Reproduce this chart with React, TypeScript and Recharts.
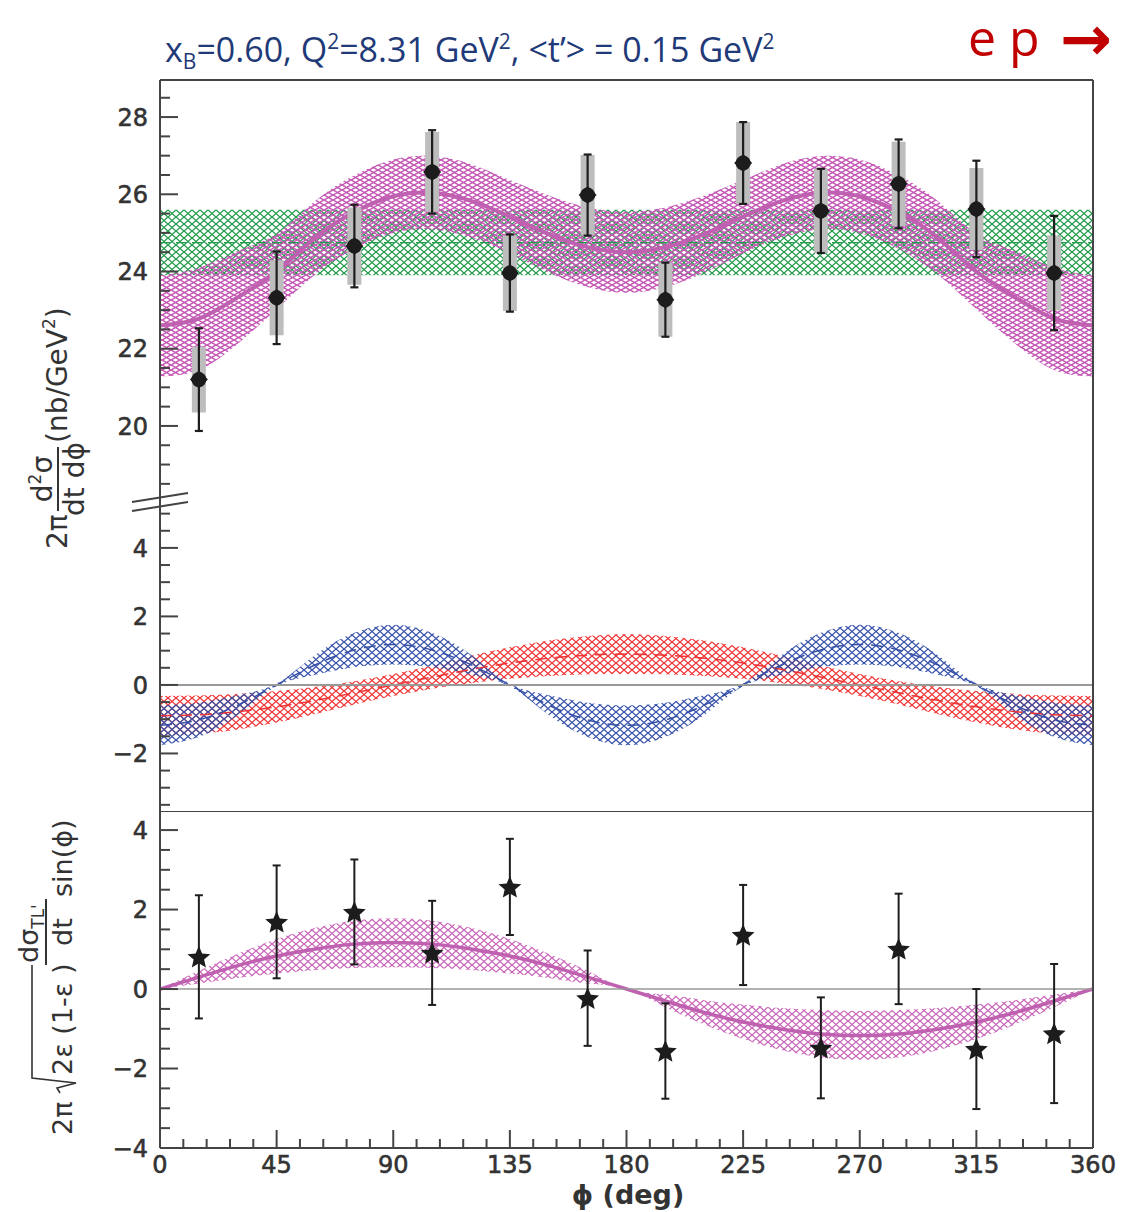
import React from 'react'
import { Area, ComposedChart, ErrorBar, Line, ReferenceLine, Scatter, XAxis, YAxis } from 'recharts'

// model curves are read every 15 deg
const phiGrid = [0, 15, 30, 45, 60, 75, 90, 105, 120, 135, 150, 165, 180, 195, 210, 225, 240, 255, 270, 285, 300, 315, 330, 345, 360]

// top panel: full cross section (magenta) and constant fit (green)
const magMid = [22.6, 22.78, 23.33, 24.0, 24.88, 25.54, 25.95, 26.04, 25.83, 25.42, 24.97, 24.63, 24.5, 24.63, 24.97, 25.42, 25.83, 26.04, 25.95, 25.54, 24.88, 24.0, 23.33, 22.78, 22.6]
const magLo = [21.28, 21.45, 22.13, 23.02, 23.93, 24.59, 25.0, 25.09, 24.88, 24.47, 23.97, 23.6, 23.45, 23.6, 23.97, 24.47, 24.88, 25.09, 25.0, 24.59, 23.93, 23.02, 22.13, 21.45, 21.28]
const magHi = [23.9, 24.1, 24.53, 24.98, 25.83, 26.49, 26.9, 26.99, 26.78, 26.37, 25.97, 25.66, 25.55, 25.66, 25.97, 26.37, 26.78, 26.99, 26.9, 26.49, 25.83, 24.98, 24.53, 24.1, 23.9]
const greenBand = [23.9, 25.6]
const greenMid = 24.75

// middle panel: cos(phi) term (red) and cos(2phi) term (blue)
const redMid = [-0.9, -0.87, -0.78, -0.64, -0.45, -0.23, 0, 0.23, 0.45, 0.64, 0.78, 0.87, 0.9, 0.87, 0.78, 0.64, 0.45, 0.23, 0, -0.23, -0.45, -0.64, -0.78, -0.87, -0.9]
const redLo = [-1.48, -1.43, -1.3, -1.1, -0.85, -0.57, -0.32, -0.11, 0.05, 0.18, 0.26, 0.31, 0.32, 0.31, 0.26, 0.18, 0.05, -0.11, -0.32, -0.57, -0.85, -1.1, -1.3, -1.43, -1.48]
const redHi = [-0.32, -0.31, -0.26, -0.18, -0.05, 0.11, 0.32, 0.57, 0.85, 1.1, 1.3, 1.43, 1.48, 1.43, 1.3, 1.1, 0.85, 0.57, 0.32, 0.11, -0.05, -0.18, -0.26, -0.31, -0.32]
const blueMid = [-1.18, -1.02, -0.59, 0, 0.59, 1.02, 1.18, 1.02, 0.59, 0, -0.59, -1.02, -1.18, -1.02, -0.59, 0, 0.59, 1.02, 1.18, 1.02, 0.59, 0, -0.59, -1.02, -1.18]
const blueLo = [-1.76, -1.52, -0.88, -0.04, 0.3, 0.52, 0.6, 0.52, 0.3, -0.04, -0.88, -1.52, -1.76, -1.52, -0.88, -0.04, 0.3, 0.52, 0.6, 0.52, 0.3, -0.04, -0.88, -1.52, -1.76]
const blueHi = [-0.6, -0.52, -0.3, 0.04, 0.88, 1.52, 1.76, 1.52, 0.88, 0.04, -0.3, -0.52, -0.6, -0.52, -0.3, 0.04, 0.88, 1.52, 1.76, 1.52, 0.88, 0.04, -0.3, -0.52, -0.6]

// bottom panel: sigma_TL' sin(phi) model
const tlMid = [0, 0.3, 0.59, 0.83, 1.01, 1.13, 1.17, 1.13, 1.01, 0.83, 0.59, 0.3, 0, -0.3, -0.59, -0.83, -1.01, -1.13, -1.17, -1.13, -1.01, -0.83, -0.59, -0.3, 0]
const tlLo = [0, 0.14, 0.28, 0.39, 0.48, 0.53, 0.55, 0.53, 0.48, 0.39, 0.28, 0.14, 0, -0.46, -0.89, -1.26, -1.54, -1.72, -1.78, -1.72, -1.54, -1.26, -0.89, -0.46, 0]
const tlHi = [0, 0.46, 0.89, 1.26, 1.54, 1.72, 1.78, 1.72, 1.54, 1.26, 0.89, 0.46, 0, -0.14, -0.28, -0.39, -0.48, -0.53, -0.55, -0.53, -0.48, -0.39, -0.28, -0.14, 0]

// measured points
const phiPts = [15, 45, 75, 105, 135, 165, 195, 225, 255, 285, 315, 345]
const xsecVal = [21.2, 23.32, 24.66, 26.58, 23.96, 25.98, 23.27, 26.81, 25.57, 26.27, 25.62, 23.96]
const xsecStat = [1.33, 1.2, 1.07, 1.08, 1.0, 1.05, 0.96, 1.06, 1.09, 1.15, 1.25, 1.48]
const xsecSyst = [0.85, 0.97, 1.0, 1.03, 0.98, 1.04, 0.96, 1.06, 1.09, 1.09, 1.06, 0.97]
const tlVal = [0.81, 1.69, 1.94, 0.91, 2.57, -0.23, -1.56, 1.36, -1.48, 1.01, -1.51, -1.12]
const tlErr = [1.55, 1.42, 1.32, 1.31, 1.21, 1.2, 1.2, 1.26, 1.27, 1.39, 1.51, 1.75]

// axes
const topDomain = [18.03, 28.96]
const midDomain = [-3.68, 5.34]
const botDomain = [-4, 4.48]
const topTicks = [18.5, 19, 19.5, 20, 20.5, 21, 21.5, 22, 22.5, 23, 23.5, 24, 24.5, 25, 25.5, 26, 26.5, 27, 27.5, 28, 28.5]
const topLabels = [20, 22, 24, 26, 28]
const midTicks = [-3.5, -3, -2.5, -2, -1.5, -1, -0.5, 0, 0.5, 1, 1.5, 2, 2.5, 3, 3.5, 4, 4.5, 5]
const midLabels = [-2, 0, 2, 4]
const botTicks = [-4, -3.5, -3, -2.5, -2, -1.5, -1, -0.5, 0, 0.5, 1, 1.5, 2, 2.5, 3, 3.5, 4]
const botLabels = [-4, -2, 0, 2, 4]
const xTicks = [0, 9, 18, 27, 36, 45, 54, 63, 72, 81, 90, 99, 108, 117, 126, 135, 144, 153, 162, 171, 180, 189, 198, 207, 216, 225, 234, 243, 252, 261, 270, 279, 288, 297, 306, 315, 324, 333, 342, 351, 360]
const xLabels = [0, 45, 90, 135, 180, 225, 270, 315, 360]

const topRows = phiGrid.map((phi, i) => ({ phi, mag: [magLo[i], magHi[i]], magMid: magMid[i], green: greenBand, greenMid }))
const midRows = phiGrid.map((phi, i) => ({ phi, red: [redLo[i], redHi[i]], redMid: redMid[i], blue: [blueLo[i], blueHi[i]], blueMid: blueMid[i] }))
const botRows = phiGrid.map((phi, i) => ({ phi, tl: [tlLo[i], tlHi[i]], tlMid: tlMid[i] }))
const xsecPts = phiPts.map((phi, i) => ({ phi, val: xsecVal[i], stat: xsecStat[i], syst: xsecSyst[i] }))
const tlPts = phiPts.map((phi, i) => ({ phi, val: tlVal[i], err: tlErr[i] }))

const FONT = '"DejaVu Sans", sans-serif'
const AXIS = '#444'
const TXT = '#333'
const MAG = '#c060b0'

const fmt = (v: number) => (v < 0 ? '\u2212' + Math.abs(v) : String(v))

const YTick = (props: any) => {
    const { x, y, payload, labels } = props
    const major = labels.includes(payload.value)
    return (
        <g>
            <line x1={x} x2={x + (major ? 18 : 10)} y1={y} y2={y} stroke={AXIS} strokeWidth={2} />
            {major && (
                <text x={x - 12} y={y} dy="0.36em" textAnchor="end" fontFamily={FONT} fontSize={24} fill={TXT} stroke={TXT} strokeWidth={0.6}>
                    {fmt(payload.value)}
                </text>
            )}
        </g>
    )
}

const XTick = (props: any) => {
    const { x, y, payload } = props
    const major = xLabels.includes(payload.value)
    return (
        <g>
            <line x1={x} x2={x} y1={y} y2={y - (major ? 18 : 9)} stroke={AXIS} strokeWidth={2} />
            {major && (
                <text x={x} y={y + 25} textAnchor="middle" fontFamily={FONT} fontSize={24} fill={TXT} stroke={TXT} strokeWidth={0.6}>
                    {payload.value}
                </text>
            )}
        </g>
    )
}

const Dot = (props: any) => {
    const { cx, cy } = props
    return (
        <g>
            <circle cx={cx} cy={cy} r={7.5} fill="#1c1c1c" />
            <path d={`M${cx},${cy - 9} L${cx + 9},${cy} L${cx},${cy + 9} L${cx - 9},${cy} Z`} fill="#1c1c1c" />
        </g>
    )
}

const Star = (props: any) => {
    const { cx, cy } = props
    const pts = []
    for (let k = 0; k < 10; k++) {
        const r = k % 2 === 0 ? 12 : 5.5
        const a = -Math.PI / 2 + (k * Math.PI) / 5
        pts.push(`${cx + r * Math.cos(a)},${cy + 1 + r * Math.sin(a)}`)
    }
    return <polygon points={pts.join(' ')} fill="#1c1c1c" />
}

const Hatch = ({ id, color, w, h, sw }: { id: string; color: string; w: number; h: number; sw: number }) => (
    <pattern id={id} patternUnits="userSpaceOnUse" width={w} height={h}>
        <path d={`M0,0 L${w},${h} M0,${h} L${w},0`} stroke={color} strokeWidth={sw} fill="none" />
    </pattern>
)

const yAxisProps = (domain: number[], ticks: number[], labels: number[]) => ({
    type: 'number' as const,
    domain,
    allowDataOverflow: true,
    width: 1,
    ticks,
    interval: 0,
    tickLine: false,
    tickSize: 0,
    tickMargin: 0,
    axisLine: { stroke: AXIS, strokeWidth: 2 },
    tick: (p: any) => <YTick {...p} labels={labels} />,
})

export default function App() {
    return (
        <div style={{ position: 'absolute', left: 0, top: 0, width: 1122, height: 1212, background: '#fff' }}>
            <svg width={0} height={0} style={{ position: 'absolute' }}>
                <defs>
                    <Hatch id="hMag" color="#c455b4" w={9} h={5} sw={1.5} />
                    <Hatch id="hGreen" color="#1f9a48" w={8} h={7} sw={1.3} />
                    <Hatch id="hRed" color="#ee3333" w={8} h={7} sw={1.3} />
                    <Hatch id="hBlue" color="#3550a8" w={8} h={7} sw={1.3} />
                    <Hatch id="hMag2" color="#c864b8" w={8} h={7} sw={1.3} />
                </defs>
            </svg>

            <div style={{ position: 'absolute', left: 0, top: 0 }}>
                <ComposedChart width={1122} height={502} data={topRows} margin={{ top: 80, right: 29, bottom: 0, left: 159 }}>
                    <XAxis dataKey="phi" type="number" domain={[0, 360]} hide allowDataOverflow />
                    <YAxis {...yAxisProps(topDomain, topTicks, topLabels)} />
                    <Area dataKey="green" type="linear" stroke="none" fill="url(#hGreen)" fillOpacity={1} isAnimationActive={false} />
                    <Line dataKey="greenMid" type="linear" stroke="#1f9a48" strokeWidth={1.2} strokeDasharray="10 6" dot={false} activeDot={false} isAnimationActive={false} />
                    <Area dataKey="mag" type="natural" stroke="none" fill="url(#hMag)" fillOpacity={1} isAnimationActive={false} />
                    <Line dataKey="magMid" type="natural" stroke={MAG} strokeWidth={4} dot={false} activeDot={false} isAnimationActive={false} />
                    <Scatter data={xsecPts} dataKey="val" shape={(p: any) => <Dot {...p} />} isAnimationActive={false}>
                        <ErrorBar dataKey="syst" direction="y" width={0} stroke="#bdbdbd" strokeWidth={14} />
                        <ErrorBar dataKey="stat" direction="y" width={4} stroke="#1e1e1e" strokeWidth={2.2} />
                    </Scatter>
                    <ReferenceLine x={360} stroke={AXIS} strokeWidth={2} />
                    <ReferenceLine y={topDomain[1]} stroke={AXIS} strokeWidth={2} />
                </ComposedChart>
            </div>

            <div style={{ position: 'absolute', left: 0, top: 502 }}>
                <ComposedChart width={1122} height={309} data={midRows} margin={{ top: 0, right: 29, bottom: 0, left: 159 }}>
                    <XAxis dataKey="phi" type="number" domain={[0, 360]} hide allowDataOverflow />
                    <YAxis {...yAxisProps(midDomain, midTicks, midLabels)} />
                    <Area dataKey="red" type="natural" stroke="none" fill="url(#hRed)" fillOpacity={1} isAnimationActive={false} />
                    <Line dataKey="redMid" type="natural" stroke="#ee3333" strokeWidth={1.5} strokeDasharray="12 8" dot={false} activeDot={false} isAnimationActive={false} />
                    <Area dataKey="blue" type="natural" stroke="none" fill="url(#hBlue)" fillOpacity={1} isAnimationActive={false} />
                    <Line dataKey="blueMid" type="natural" stroke="#3550a8" strokeWidth={1.5} strokeDasharray="12 8" dot={false} activeDot={false} isAnimationActive={false} />
                    <ReferenceLine y={0} stroke="#999" strokeWidth={2} />
                    <ReferenceLine x={360} stroke={AXIS} strokeWidth={2} />
                </ComposedChart>
            </div>

            <div style={{ position: 'absolute', left: 0, top: 811 }}>
                <ComposedChart width={1122} height={401} data={botRows} margin={{ top: 0, right: 29, bottom: 63, left: 159 }}>
                    <XAxis
                        dataKey="phi"
                        type="number"
                        domain={[0, 360]}
                        allowDataOverflow
                        height={1}
                        ticks={xTicks}
                        interval={0}
                        tickLine={false}
                        tickSize={0}
                        tickMargin={0}
                        axisLine={{ stroke: AXIS, strokeWidth: 2 }}
                        tick={(p: any) => <XTick {...p} />}
                    />
                    <YAxis {...yAxisProps(botDomain, botTicks, botLabels)} />
                    <Area dataKey="tl" type="natural" stroke="none" fill="url(#hMag2)" fillOpacity={1} isAnimationActive={false} />
                    <Line dataKey="tlMid" type="natural" stroke={MAG} strokeWidth={3.5} dot={false} activeDot={false} isAnimationActive={false} />
                    <ReferenceLine y={0} stroke="#999" strokeWidth={1.5} />
                    <Scatter data={tlPts} dataKey="val" shape={(p: any) => <Star {...p} />} isAnimationActive={false}>
                        <ErrorBar dataKey="err" direction="y" width={4} stroke="#1e1e1e" strokeWidth={2} />
                    </Scatter>
                    <ReferenceLine x={360} stroke={AXIS} strokeWidth={2} />
                    <ReferenceLine y={botDomain[1]} stroke={AXIS} strokeWidth={2} />
                </ComposedChart>
            </div>

            <svg width={1122} height={1212} style={{ position: 'absolute', left: 0, top: 0, pointerEvents: 'none' }}>
                <text x={165} y={62} fontFamily='"Open Sans", sans-serif' fontSize={34} fill="#1f3a78">
                    x<tspan fontSize={21} dy={7}>B</tspan>
                    <tspan dy={-7}>=0.60, Q</tspan>
                    <tspan fontSize={21} dy={-13}>2</tspan>
                    <tspan dy={13}>=8.31 GeV</tspan>
                    <tspan fontSize={21} dy={-13}>2</tspan>
                    <tspan dy={13}>, &lt;t’&gt; = 0.15 GeV</tspan>
                    <tspan fontSize={21} dy={-13}>2</tspan>
                </text>
                <text x={968} y={56} fontFamily='"Open Sans", sans-serif' fontSize={50} fill="#c00000">
                    e p
                </text>
                <text x={1060} y={60} fontFamily={FONT} fontSize={62} fontWeight="bold" fill="#c00000">
                    →
                </text>

                {/* axis break */}
                <line x1={132} y1={502} x2={188} y2={493} stroke={AXIS} strokeWidth={2} />
                <line x1={132} y1={511} x2={188} y2={502} stroke={AXIS} strokeWidth={2} />

                <g transform="translate(67,549) rotate(-90)" fontFamily={FONT} fontSize={28} fill={TXT}>
                    <text x={0} y={0}>2π</text>
                    <text x={70} y={-15} textAnchor="middle">
                        d<tspan fontSize={17} dy={-11}>2</tspan>
                        <tspan dy={11}>σ</tspan>
                    </text>
                    <line x1={38} x2={102} y1={-9} y2={-9} stroke={TXT} strokeWidth={2} />
                    <text x={70} y={17} textAnchor="middle">dt dϕ</text>
                    <text x={106} y={0}>
                        (nb/GeV<tspan fontSize={17} dy={-12}>2</tspan>
                        <tspan dy={12}>)</tspan>
                    </text>
                </g>

                <g transform="translate(72,1135) rotate(-90)" fontFamily={FONT} fontSize={27} fill={TXT}>
                    <text x={0} y={0}>2π</text>
                    <path d="M42,-12 L47,-15 L52,4 L57,-40 L170,-40" stroke={TXT} strokeWidth={1.6} fill="none" />
                    <text x={60} y={0}>2ε (1-ε )</text>
                    <text x={172} y={-34}>
                        dσ<tspan fontSize={17} dy={6}>TL'</tspan>
                    </text>
                    <line x1={170} x2={236} y1={-26} y2={-26} stroke={TXT} strokeWidth={2} />
                    <text x={203} y={0} textAnchor="middle">dt</text>
                    <text x={238} y={0}>sin(ϕ)</text>
                </g>

                <text x={628} y={1204} textAnchor="middle" fontFamily={FONT} fontSize={27} fontWeight="bold" fill={TXT}>
                    ϕ (deg)
                </text>
            </svg>
        </div>
    )
}
